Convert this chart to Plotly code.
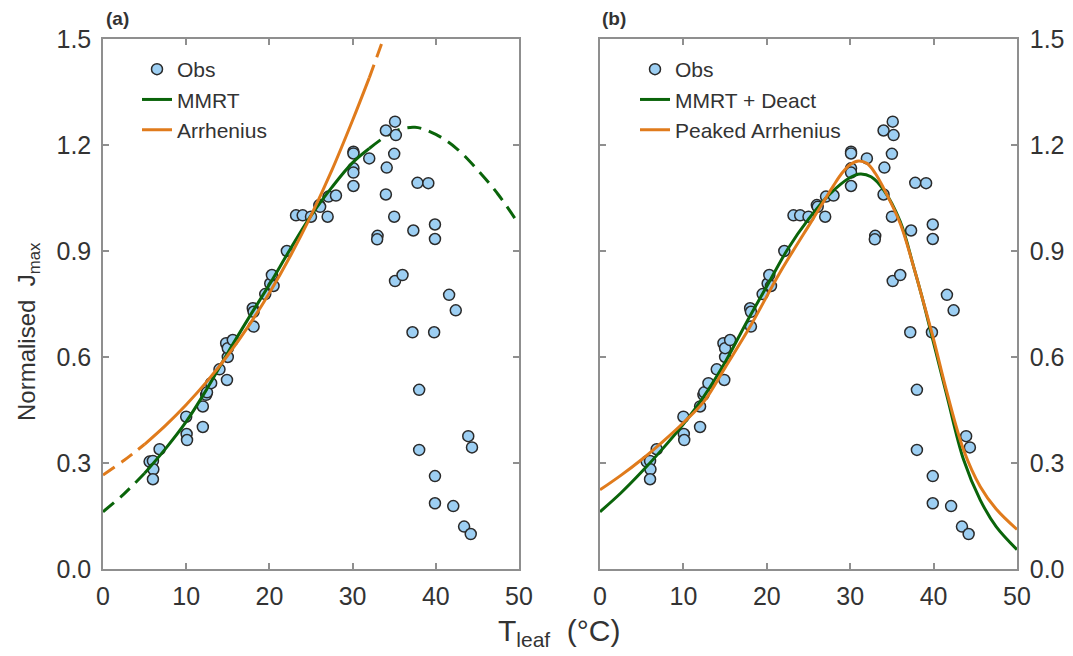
import plotly.graph_objects as go

# ---------------- data ----------------
obs_T = [5.6, 6.0, 6.05, 6.0, 6.8, 10.0, 10.05, 10.1, 12.0, 12.0, 12.4, 12.5, 13.0, 14.0,
         14.9, 15.0, 14.8, 15.0, 15.6, 18.0, 18.1, 18.1, 19.5, 20.1, 20.3, 20.5, 22.1,
         23.2, 24.0, 25.0, 26.0, 26.1, 27.1, 28.0, 27.0, 30.1, 30.1, 30.1, 30.1, 30.1,
         32.0, 34.0, 35.1, 35.2, 35.0, 34.1, 34.0, 35.0, 33.0, 32.95, 37.8, 39.1, 37.3,
         39.9, 39.9, 35.1, 36.0, 41.6, 42.4, 37.2, 39.8, 38.0, 43.9, 44.35, 38.0, 39.9,
         39.9, 42.1, 43.4, 44.2]
obs_J = [0.304, 0.306, 0.282, 0.254, 0.339, 0.431, 0.382, 0.365, 0.460, 0.402, 0.493, 0.500,
         0.526, 0.565, 0.535, 0.600, 0.639, 0.625, 0.648, 0.738, 0.728, 0.686, 0.778, 0.808,
         0.832, 0.801, 0.900, 1.001, 1.001, 0.997, 1.030, 1.025, 1.054, 1.057, 0.997, 1.181,
         1.176, 1.134, 1.122, 1.084, 1.162, 1.241, 1.266, 1.228, 1.175, 1.136, 1.060, 0.997,
         0.943, 0.933, 1.093, 1.092, 0.958, 0.975, 0.934, 0.815, 0.832, 0.776, 0.732, 0.670,
         0.670, 0.507, 0.376, 0.344, 0.337, 0.263, 0.186, 0.178, 0.120, 0.099]

# panel (a) fitted curves (solid inside fit range, dashed outside)
fit_range_a = (5.0, 32.0)
a_mmrt_T = [0, 2.5, 5, 7.5, 10, 12.5, 15, 17.5, 20, 22.5, 25, 27.5, 30, 32, 35, 37.5, 40,
            42.5, 45, 47.5, 50]
a_mmrt_J = [0.162, 0.212, 0.271, 0.34, 0.417, 0.51, 0.612, 0.71, 0.805, 0.905, 1.0, 1.08,
            1.15, 1.19, 1.238, 1.25, 1.23, 1.19, 1.13, 1.06, 0.975]
a_arr_T = [0, 2.5, 5, 7.5, 10, 12.5, 15, 17.5, 20, 22.5, 25, 27.5, 30, 32, 34]
a_arr_J = [0.266, 0.307, 0.353, 0.406, 0.465, 0.531, 0.605, 0.688, 0.781, 0.885, 1.0, 1.128,
           1.27, 1.39, 1.52]

# panel (b) fitted curves
b_mmrt_T = [0, 2.5, 5, 7.5, 10, 12.5, 15, 17.5, 20, 22.5, 25, 27.5, 30, 31.2, 32.5, 34, 36,
            37.6, 38.6, 40, 41.6, 43.6, 45.6, 47.5, 50]
b_mmrt_J = [0.162, 0.215, 0.275, 0.34, 0.41, 0.49, 0.585, 0.695, 0.80, 0.905, 0.99, 1.06,
            1.108, 1.118, 1.11, 1.073, 0.983, 0.856, 0.771, 0.64, 0.49, 0.309, 0.195, 0.12,
            0.055]
b_parr_T = [0, 2.5, 5, 7.5, 10, 12.5, 15, 18, 21.6, 25.6, 28, 29, 30, 31, 32, 33, 34, 36,
            37.6, 38.6, 40, 41.6, 43.6, 45.6, 47.5, 50]
b_parr_J = [0.224, 0.265, 0.31, 0.36, 0.414, 0.475, 0.57, 0.686, 0.84, 0.993, 1.085, 1.12,
            1.145, 1.155, 1.148, 1.12, 1.078, 0.978, 0.856, 0.771, 0.65, 0.5, 0.337, 0.233,
            0.17, 0.112]

x_ticks = [0, 10, 20, 30, 40, 50]
y_ticks = [0.0, 0.3, 0.6, 0.9, 1.2, 1.5]

# ---------------- styling ----------------
W, H = 1073, 656
GREEN = "#0a640a"
ORANGE = "#e07b1c"
MFILL = "#9dcff3"
MLINE = "#2a2a2a"
AXC = "#8f8f8f"
TXT = "#333333"
DASH = "14px,8px"
TICKFONT = dict(family="Liberation Sans, Arial", size=25, color=TXT)


def seg(T, J, lo, hi, mode):
    if mode == "in":
        pts = [(t, j) for t, j in zip(T, J) if lo <= t <= hi]
    elif mode == "low":
        pts = [(t, j) for t, j in zip(T, J) if t <= lo]
    else:
        pts = [(t, j) for t, j in zip(T, J) if t >= hi]
    return [p[0] for p in pts], [p[1] for p in pts]


fig = go.Figure()

# ----- panel (a)
for T, J, col, name in [(a_mmrt_T, a_mmrt_J, GREEN, "MMRT"), (a_arr_T, a_arr_J, ORANGE, "Arrhenius")]:
    lo, hi = fit_range_a
    for mode in ["low", "high"]:
        xs, ys = seg(T, J, lo, hi, mode)
        fig.add_trace(go.Scatter(x=xs, y=ys, mode="lines", xaxis="x", yaxis="y",
                                 line=dict(color=col, width=3, dash=DASH, shape="spline"),
                                 showlegend=False, hoverinfo="skip"))
fig.add_trace(go.Scatter(x=obs_T, y=obs_J, mode="markers", name="Obs", xaxis="x", yaxis="y",
                         marker=dict(size=11, color=MFILL, line=dict(color=MLINE, width=1.5)),
                         legend="legend"))
for T, J, col, name in [(a_mmrt_T, a_mmrt_J, GREEN, "MMRT"), (a_arr_T, a_arr_J, ORANGE, "Arrhenius")]:
    xs, ys = seg(T, J, fit_range_a[0], fit_range_a[1], "in")
    fig.add_trace(go.Scatter(x=xs, y=ys, mode="lines", name=name, xaxis="x", yaxis="y",
                             line=dict(color=col, width=3, shape="spline"), legend="legend"))

# ----- panel (b)
fig.add_trace(go.Scatter(x=obs_T, y=obs_J, mode="markers", name="Obs", xaxis="x2", yaxis="y2",
                         marker=dict(size=11, color=MFILL, line=dict(color=MLINE, width=1.5)),
                         legend="legend2"))
fig.add_trace(go.Scatter(x=b_mmrt_T, y=b_mmrt_J, mode="lines", name="MMRT + Deact",
                         xaxis="x2", yaxis="y2", line=dict(color=GREEN, width=3, shape="spline"),
                         legend="legend2"))
fig.add_trace(go.Scatter(x=b_parr_T, y=b_parr_J, mode="lines", name="Peaked Arrhenius",
                         xaxis="x2", yaxis="y2", line=dict(color=ORANGE, width=3, shape="spline"),
                         legend="legend2"))

y0, y1 = 1 - 569 / H, 1 - 39 / H
ax_common = dict(showline=True, linecolor=AXC, linewidth=1.5, mirror="ticks", ticks="inside",
                 ticklen=6, tickcolor=AXC, tickwidth=1.5, showgrid=False, zeroline=False,
                 tickfont=TICKFONT, automargin=False)

fig.update_layout(
    width=W, height=H, margin=dict(l=0, r=0, t=0, b=0, autoexpand=False),
    paper_bgcolor="white", plot_bgcolor="white",
    font=dict(family="Liberation Sans, Arial", color=TXT),
    xaxis=dict(domain=[103 / W, 519 / W], range=[0, 50], tickvals=x_ticks, anchor="y",
               ticklabelstandoff=4, **ax_common),
    yaxis=dict(domain=[y0, y1], range=[0, 1.5], tickvals=y_ticks, tickformat=".1f", anchor="x",
               ticklabelstandoff=5, **ax_common),
    xaxis2=dict(domain=[600 / W, 1017 / W], range=[0, 50], tickvals=x_ticks, anchor="y2",
                ticklabelstandoff=4, **ax_common),
    yaxis2=dict(domain=[y0, y1], range=[0, 1.5], tickvals=y_ticks, tickformat=".1f", anchor="x2",
                side="right", ticklabelstandoff=6, **ax_common),
    legend=dict(x=137 / W, y=1 - 49 / H, xanchor="left", yanchor="top", bgcolor="rgba(0,0,0,0)",
                font=dict(size=21, color=TXT), tracegroupgap=0, itemwidth=30),
    legend2=dict(x=635 / W, y=1 - 49 / H, xanchor="left", yanchor="top", bgcolor="rgba(0,0,0,0)",
                 font=dict(size=21, color=TXT), tracegroupgap=0, itemwidth=30),
    annotations=[
        dict(text="<b>(a)</b>", x=104 / W, y=1 - 19 / H, xref="paper", yref="paper",
             xanchor="left", yanchor="middle", showarrow=False, font=dict(size=19, color=TXT)),
        dict(text="<b>(b)</b>", x=600 / W, y=1 - 19 / H, xref="paper", yref="paper",
             xanchor="left", yanchor="middle", showarrow=False, font=dict(size=19, color=TXT)),
        dict(text="Normalised  J<sub>max</sub>", x=28 / W, y=1 - 332 / H, xref="paper",
             yref="paper", xanchor="center", yanchor="middle", textangle=-90, showarrow=False,
             font=dict(size=24, color=TXT)),
        dict(text="T<sub>leaf</sub>  (°C)", x=559 / W, y=1 - 632 / H, xref="paper",
             yref="paper", xanchor="center", yanchor="middle", showarrow=False,
             font=dict(size=30, color=TXT)),
    ],
)

fig.write_html("out.html")
